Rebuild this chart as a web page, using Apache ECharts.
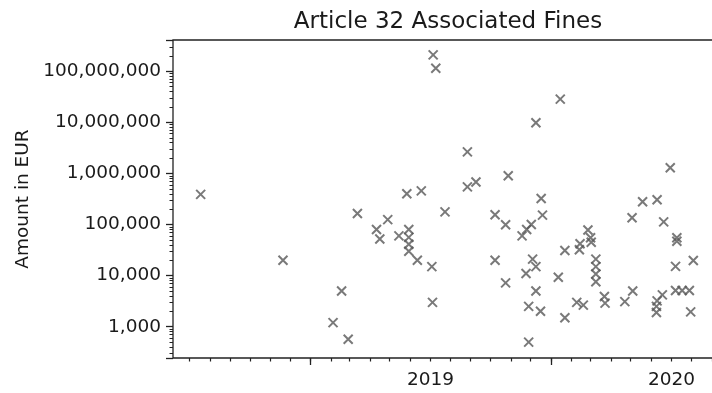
<!DOCTYPE html>
<html>
<head>
<meta charset="utf-8">
<script src="https://cdn.jsdelivr.net/npm/echarts@6/dist/echarts.min.js"></script>
<style>
html,body{margin:0;padding:0;background:#fff;}
#c{width:712px;height:393px;}
</style>
</head>
<body>
<div id="c"></div>
<script>
// ---- data ----
const fineDates = [
  '2018-07-18','2018-11-20','2019-02-04','2019-02-17','2019-02-27','2019-03-13','2019-04-11','2019-04-16',
  '2019-04-28','2019-05-15','2019-05-27','2019-05-30','2019-05-30','2019-05-30','2019-05-30','2019-06-12',
  '2019-06-18','2019-07-04','2019-07-05','2019-07-06','2019-07-10','2019-07-24','2019-08-27','2019-08-27',
  '2019-09-09','2019-10-08','2019-10-24','2019-10-08','2019-10-24','2019-10-28','2019-11-18','2019-11-25',
  '2019-12-02','2019-12-17','2019-12-19','2019-12-09','2020-01-15','2019-12-04','2019-12-09','2019-11-24',
  '2019-12-09','2019-11-28','2019-12-16','2019-11-28','2020-01-12','2020-01-22','2020-01-22','2020-02-13',
  '2020-02-14','2020-02-26','2020-03-01','2020-03-02','2020-03-09','2020-03-09','2020-03-09','2020-03-09',
  '2020-02-09','2020-02-19','2020-03-22','2020-03-23','2020-04-22','2020-05-04','2020-05-03','2020-05-19',
  '2020-06-10','2020-06-20','2020-06-30','2020-07-10','2020-07-10','2020-07-08','2020-08-04','2020-07-08',
  '2020-07-18','2020-07-29','2020-06-18','2020-06-10','2020-06-09','2020-06-09','2020-07-31'
];
const fineAmounts = [
  390000, 20000, 1200, 5000, 570, 165000, 80000, 52000,
  125000, 60000, 400000, 80000, 56000, 41000, 30000, 20000,
  457000, 15000, 3000, 210000000, 115000000, 177000, 2650000, 547000,
  680000, 155000, 99000, 20000, 7200, 900000, 60000, 80000,
  100000, 324000, 153000, 9800000, 28500000, 21000, 15000, 11000,
  5000, 2500, 2000, 500, 9300, 31000, 1500, 32000,
  42000, 78000, 55000, 45000, 21000, 15000, 10800, 7600,
  3000, 2650, 3900, 2900, 3100, 5000, 136000, 280000,
  305000, 113000, 1290000, 55000, 47000, 15200, 19800, 5100,
  5100, 5100, 4200, 3200, 2500, 1900, 1950
];
const yearTicks = ['2019', '2020'];
const xRange = ['2018-06-06', '2020-09-12'];
const yRange = [244, 410000000];
const titleText = 'Article 32 Associated Fines';
const yAxisTitle = 'Amount in EUR';

// ---- derived tick positions ----
function ts(s){ const p = s.split('-').map(Number); return Date.UTC(p[0], p[1]-1, p[2]); }
const xMin = ts(xRange[0]), xMax = ts(xRange[1]);
const yearStarts = yearTicks.map(y => Date.UTC(+y, 0, 1));
const midYears = yearTicks.map(y => Date.UTC(+y, 6, 2));
const monthStarts = [];
{
  const d0 = new Date(xMin);
  let y = d0.getUTCFullYear(), m = d0.getUTCMonth() + 1;
  while (true) {
    if (m > 11) { m = 0; y++; }
    const t = Date.UTC(y, m, 1);
    if (t > xMax) break;
    monthStarts.push(t);
    m++;
  }
}

const txt = '#1a1a1a';
const frame = '#222';
const font = 'DejaVu Sans';

const chart = echarts.init(document.getElementById('c'), null, {renderer: 'canvas'});
chart.setOption({
  animation: false,
  backgroundColor: '#fff',
  title: {
    text: titleText,
    left: 443,
    textAlign: 'center',
    top: 6,
    textStyle: {fontFamily: font, fontSize: 23, fontWeight: 'normal', color: txt}
  },
  grid: {
    left: 173, top: 40, right: -7, bottom: 35,
    outerBoundsMode: 'none', containLabel: false,
    show: true, borderColor: frame, borderWidth: 1.3, backgroundColor: 'transparent'
  },
  xAxis: [
    {
      type: 'value', min: xMin, max: xMax, position: 'bottom',
      axisLine: {show: false},
      axisTick: {show: true, length: 3.5, customValues: monthStarts, lineStyle: {color: frame, width: 1.2}},
      axisLabel: {show: false},
      splitLine: {show: false}
    },
    {
      type: 'value', min: xMin, max: xMax, position: 'bottom',
      axisLine: {show: false},
      axisTick: {show: true, length: 7, customValues: yearStarts, lineStyle: {color: frame, width: 1.3}},
      axisLabel: {
        show: true, customValues: midYears, margin: 13,
        fontFamily: font, fontSize: 18.5, color: txt,
        formatter: function (v) { return String(new Date(v).getUTCFullYear()); }
      },
      splitLine: {show: false}
    }
  ],
  yAxis: {
    type: 'log', logBase: 10, min: yRange[0], max: yRange[1],
    axisLine: {show: false},
    axisTick: {show: true, length: 7, lineStyle: {color: frame, width: 1.3}},
    minorTick: {show: true, splitNumber: 9, length: 3.5, lineStyle: {color: frame, width: 1}},
    splitLine: {show: false},
    minorSplitLine: {show: false},
    axisLabel: {
      margin: 12, fontFamily: font, fontSize: 18.5, color: txt,
      showMinLabel: false, showMaxLabel: false,
      formatter: function (v) {
        return String(Math.round(v)).replace(/\B(?=(\d{3})+(?!\d))/g, ',');
      }
    },
    name: yAxisTitle, nameLocation: 'middle', nameGap: 140, nameRotate: 90,
    nameTextStyle: {fontFamily: font, fontSize: 18.5, color: txt}
  },
  series: [{
    type: 'scatter',
    xAxisIndex: 0,
    data: fineDates.map((d, i) => [ts(d), fineAmounts[i]]),
    symbol: 'path://M0,0L10,10M10,0L0,10',
    symbolSize: 9,
    itemStyle: {color: 'rgba(0,0,0,0)', borderColor: '#585858', borderWidth: 2},
    emphasis: {disabled: true}
  }]
});
</script>
</body>
</html>
